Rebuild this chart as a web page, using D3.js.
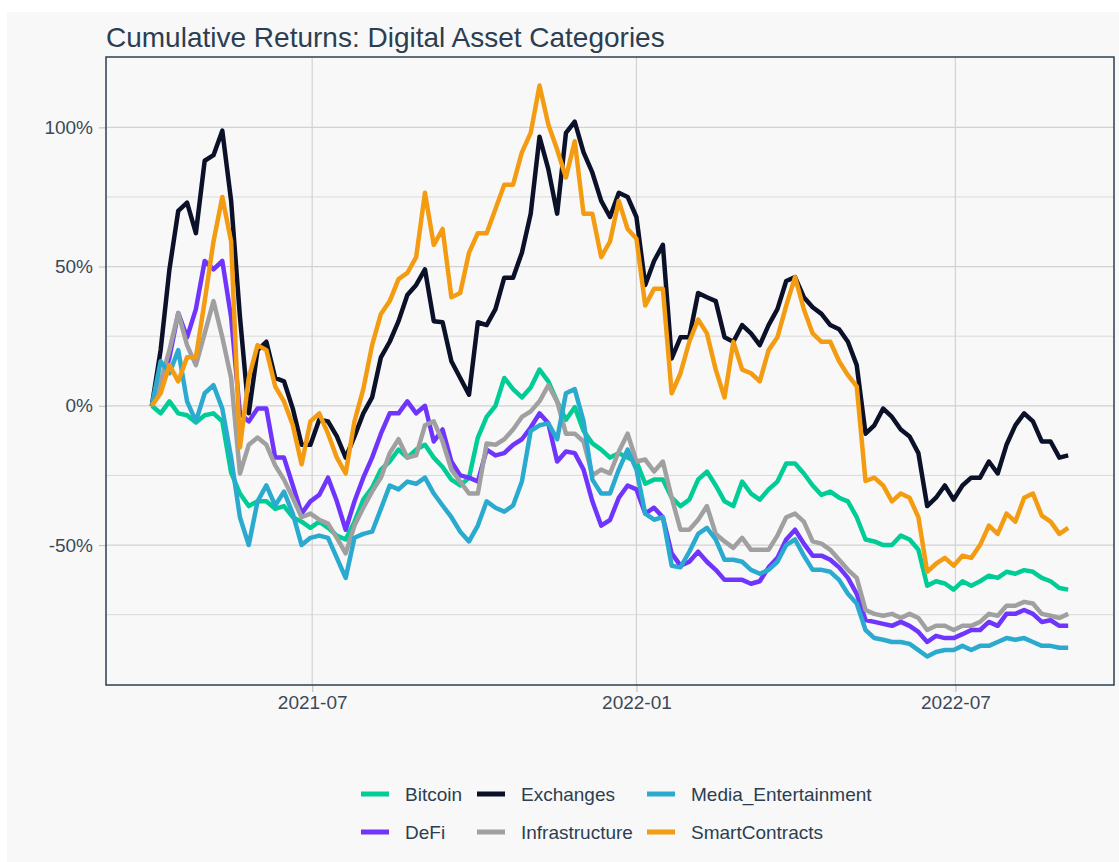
<!DOCTYPE html>
<html>
<head>
<meta charset="utf-8">
<script src="https://cdn.jsdelivr.net/npm/d3@7"></script>
<style>
  body { margin: 0; background: #ffffff; }
  text { font-family: "Liberation Sans", Arial, sans-serif; }
</style>
</head>
<body>
<div id="chart"></div>
<script>
// categories (legend order) and colours
const categories = ["Bitcoin", "DeFi", "Exchanges", "Infrastructure", "Media_Entertainment", "SmartContracts"];
const colors = ["#00cc96", "#6f35fc", "#0b1128", "#a0a0a0", "#2aaacf", "#f39c12"];

// one observation every 5 days, starting 2021-04-01
const startDate = "2021-04-01";
const stepDays = 5;

// cumulative returns (%)
const bitcoin = [0, -2.7, 1.6, -2.7, -3.4, -6, -3.4, -2.7, -5.6, -24, -31.5, -36, -34.3, -34.3, -37, -36, -40, -41.6, -43.8, -41.6,
  -43.8, -46.6, -48, -41.6, -33.7, -29.4, -22.9, -20, -15.7, -18.6, -15.7, -14, -18.6, -22, -26.5, -28.6, -25.8, -11.4, -4,
  0, 10, 6, 3, 6.6, 13, 8.8, 1.6, -5, -0.5, -9, -13.5, -15.7, -18.6, -17, -18.6, -20, -28, -26.5,
  -26.5, -33, -36, -33.7, -26.5, -23.6, -28.6, -34.3, -36, -27.2, -31.5, -33.7, -30, -27.2, -20.7, -20.7, -24.3, -28.6, -32,
  -30.8, -33, -34.3, -40, -48, -48.7, -50, -50, -46.6, -48, -51.7, -64.6, -63, -63.8, -66, -63,
  -64.6, -63, -61, -61.8, -59.6, -60.3, -59, -59.6, -61.8, -63, -65.4, -66];

const defi = [0, 6, 17.4, 33.3, 24.6, 34.7, 52, 49, 52, 31.8, -2.7, -5.6, -1, -1, -18.6, -18.6, -28.6, -38.7, -34.3, -32,
  -25.8, -34.3, -44.5, -34.3, -25.8, -18.6, -10, -2.7, -2.7, 1.6, -2.7, 0, -12.8, -8.5, -20, -25, -25.8, -27.2, -15.7,
  -17.8, -17, -14, -12, -7.8, -2.7, -6.3, -20, -16.4, -17, -22.9, -34.3, -43, -41, -33, -28.6, -30, -38.7, -36.6,
  -40, -53, -57.4, -56, -52.4, -56, -58.9, -62.5, -62.5, -62.5, -63.9, -63, -58, -54.6, -48, -44.5, -49.5, -53.8, -53.8,
  -55.3, -58, -61.8, -67.5, -76.9, -77.6, -78.3, -79, -77.6, -79, -81.2, -84.8, -82.6, -83.4, -83.4, -82,
  -80.5, -80.5, -77.6, -79, -74.7, -74.7, -73.3, -74.7, -77.6, -77, -79, -79];

const exchanges = [0, 20, 49, 70, 73, 62, 88, 90, 98.8, 73.6, 32, -2.7, 20, 23, 10, 8.8, -1, -14, -14, -5,
  -5.6, -11, -18.6, -11, -2.7, 3, 17.4, 23, 30.4, 39.8, 43.4, 49, 30.4, 30, 16, 10, 4, 30, 29,
  34.7, 46, 46, 55, 69, 96.6, 85, 69, 98, 102, 91, 83.7, 73.6, 67.8, 76.5, 75, 67.8, 43.4, 52,
  57.8, 17, 24.6, 24.6, 40.5, 39, 37.6, 24.6, 23, 29, 26, 21.8, 29, 34.7, 44.8, 46.2, 39, 35.4, 33,
  29, 27.5, 23, 14.6, -10, -7, -1, -4, -8.5, -11, -17, -36, -33, -28.6, -33.7, -28.6,
  -25.8, -25.8, -20, -24.3, -14, -7, -2.7, -5.6, -12.8, -12.8, -18.6, -17.8];

const infrastructure = [0, 8.8, 20, 33.3, 21.8, 14.6, 26, 37.6, 24.6, 10, -24.3, -14, -11.4, -14, -21.4, -26.5, -33, -40, -38.7, -40.9,
  -42.3, -47.4, -53, -43, -36.6, -30.8, -25.8, -17, -12, -18.6, -17.8, -7, -5.6, -12.8, -22.9, -27.2, -31.5, -31.5, -13.5,
  -14, -12, -8.5, -4, -2, 1.6, 7.4, 1.6, -10, -10, -12.8, -25, -22.9, -24.3, -16.4, -10, -20, -19.3, -23.6,
  -20, -33, -44.5, -44.5, -40.9, -36, -46, -48.7, -51, -47.4, -51.7, -51.7, -51.7, -46.6, -40, -38.7, -41.6, -48.7, -49.5,
  -51.7, -55.3, -58.9, -61.8, -73.3, -74.7, -75.4, -74.7, -76.2, -74.7, -76.2, -80.5, -79, -79, -80.5, -79,
  -79, -77.6, -74.7, -75.4, -71.8, -71.8, -70.4, -71, -74.7, -75.4, -76.2, -74.7];

const media = [0, 16, 11.7, 20, 1.6, -5.6, 4.5, 7.4, -1, -18.6, -40, -50, -34.3, -28.6, -35.8, -30.8, -38.7, -50, -47.4, -46.6,
  -47.4, -54.6, -61.8, -47.4, -46, -45.2, -37, -28.6, -30, -27.2, -28, -25.8, -31.5, -35.8, -40, -45.2, -48.7, -43, -34.3,
  -36.6, -38, -35.8, -27.2, -9, -7, -6.3, -12, 4.5, 6, -5.6, -26.5, -31.5, -31.5, -22.9, -15.7, -22.9, -38.7, -40.9,
  -40, -57.4, -58, -52.4, -46, -43.8, -48, -55.3, -55.3, -56, -58.9, -60.3, -58.9, -56, -50, -48, -53.8, -58.9, -58.9,
  -59.6, -62.5, -67.5, -71, -80.5, -83.4, -84, -84.8, -84.8, -85.5, -87.7, -90, -88.4, -87.7, -87.7, -86.2,
  -87.7, -86.2, -86.2, -84.8, -83.4, -84, -83.4, -84.8, -86.2, -86.2, -86.9, -86.9];

const smartContracts = [0, 4.5, 14.6, 8.8, 17.4, 17.4, 37.6, 59, 75, 59, -15, 10, 21.8, 20, 7, 1.6, -7, -21, -5.6, -2.7,
  -10, -18.6, -24.3, -5.6, 6, 21.8, 33, 37.6, 45.5, 47.7, 53.4, 76.5, 57.8, 63.5, 39, 40.5, 55, 62, 62,
  70.7, 79.4, 79.4, 91, 98, 115, 101, 92, 82, 95, 69, 69, 53.4, 59, 73.6, 63.5, 60, 36, 42,
  42, 4.5, 11.7, 23, 31, 26, 13, 3, 23, 13, 11.7, 8.8, 20, 24.6, 36, 46.2, 34.7, 26, 23,
  23, 16, 11, 7, -27, -25.8, -28.6, -34.3, -31.5, -33, -40, -59.6, -56.7, -54.6, -57.4, -53.8,
  -54.6, -50, -43, -46, -38.7, -41.6, -33, -31.5, -39.4, -41.6, -46, -43.8];

const seriesValues = [bitcoin, defi, exchanges, infrastructure, media, smartContracts];

// axis ticks
const xTickLabels = ["2021-07", "2022-01", "2022-07"];
const yGridValues = [-75, -50, -25, 0, 25, 50, 75, 100];
const yTickValues = [-50, 0, 50, 100];

function crtajGraf() {
  const sirina = 1119;
  const visina = 862;
  const panel = { left: 106, right: 1114, top: 57, bottom: 685 };

  const parse = d3.utcParse("%Y-%m-%d");
  const pocetak = parse(startDate);
  const datumi = d3.range(bitcoin.length).map(i => d3.utcDay.offset(pocetak, i * stepDays));

  const serije = categories.map((ime, k) => ({
    ime,
    boja: colors[k],
    tocke: seriesValues[k].map((v, i) => ({ datum: datumi[i], v }))
  }));

  // ggplot style 5% expansion on both axes
  const [d0, d1] = d3.extent(datumi);
  const dPad = (d1 - d0) * 0.05;
  const xSkala = d3.scaleUtc()
    .domain([new Date(+d0 - dPad), new Date(+d1 + dPad)])
    .range([panel.left, panel.right]);

  const sveVr = seriesValues.flat();
  const [v0, v1] = d3.extent(sveVr);
  const vPad = (v1 - v0) * 0.05;
  const ySkala = d3.scaleLinear()
    .domain([v0 - vPad, v1 + vPad])
    .range([panel.bottom, panel.top]);

  const svg = d3.select("#chart")
    .append("svg")
    .attr("width", sirina)
    .attr("height", visina);

  // pozadina
  svg.append("rect")
    .attr("x", 7).attr("y", 12)
    .attr("width", sirina - 7).attr("height", visina - 12)
    .attr("fill", "#f8f8f8");

  // mreza
  const xTicks = xTickLabels.map(s => d3.utcParse("%Y-%m")(s));
  const mreza = svg.append("g");
  mreza.selectAll(".hgrid")
    .data(yGridValues)
    .join("line")
    .attr("x1", panel.left).attr("x2", panel.right)
    .attr("y1", d => ySkala(d)).attr("y2", d => ySkala(d))
    .attr("stroke", d => yTickValues.includes(d) ? "#d2d2d2" : "#dadada")
    .attr("stroke-width", d => yTickValues.includes(d) ? 1.2 : 1);
  mreza.selectAll(".vgrid")
    .data(xTicks)
    .join("line")
    .attr("x1", d => xSkala(d)).attr("x2", d => xSkala(d))
    .attr("y1", panel.top).attr("y2", panel.bottom)
    .attr("stroke", "#d2d2d2")
    .attr("stroke-width", 1.2);

  // osi
  const yOs = svg.append("g")
    .attr("transform", `translate(${panel.left},0)`)
    .call(d3.axisLeft(ySkala)
      .tickValues(yTickValues)
      .tickSize(7)
      .tickPadding(6)
      .tickFormat(d => `${d}%`));
  const xOs = svg.append("g")
    .attr("transform", `translate(0,${panel.bottom})`)
    .call(d3.axisBottom(xSkala)
      .tickValues(xTicks)
      .tickSize(7)
      .tickPadding(4)
      .tickFormat(d3.utcFormat("%Y-%m")));
  [yOs, xOs].forEach(os => {
    os.select(".domain").remove();
    os.selectAll(".tick line").attr("stroke", "#c4c4c4").attr("stroke-width", 1.2);
    os.selectAll(".tick text")
      .attr("fill", "#3b4858")
      .style("font-size", "19px")
      .style("font-family", "'Liberation Sans', Arial, sans-serif");
  });

  // linije
  const linija = d3.line()
    .x(d => xSkala(d.datum))
    .y(d => ySkala(d.v));
  svg.append("g")
    .selectAll("path")
    .data(serije)
    .join("path")
    .attr("d", d => linija(d.tocke))
    .attr("fill", "none")
    .attr("stroke", d => d.boja)
    .attr("stroke-width", 4.5)
    .attr("stroke-linejoin", "round");

  // okvir panela
  svg.append("rect")
    .attr("x", panel.left).attr("y", panel.top)
    .attr("width", panel.right - panel.left)
    .attr("height", panel.bottom - panel.top)
    .attr("fill", "none")
    .attr("stroke", "#2c3e50")
    .attr("stroke-width", 1.5);

  // naslov
  svg.append("text")
    .attr("x", panel.left)
    .attr("y", 47)
    .attr("fill", "#2c3e50")
    .style("font-size", "28px")
    .text("Cumulative Returns: Digital Asset Categories");

  // legenda: 2 reda, popunjava se po stupcima
  const stupciX = [361, 477, 647];
  const redoviY = [794, 832];
  const legenda = svg.append("g")
    .selectAll("g")
    .data(serije)
    .join("g")
    .attr("transform", (d, i) => `translate(${stupciX[Math.floor(i / 2)]},${redoviY[i % 2]})`);
  legenda.append("rect")
    .attr("x", 0).attr("y", -2.5)
    .attr("width", 28).attr("height", 5)
    .attr("fill", d => d.boja);
  legenda.append("text")
    .attr("x", 44)
    .attr("dy", "0.35em")
    .attr("fill", "#2c3e50")
    .style("font-size", "19px")
    .text(d => d.ime);
}

crtajGraf();
</script>
</body>
</html>
